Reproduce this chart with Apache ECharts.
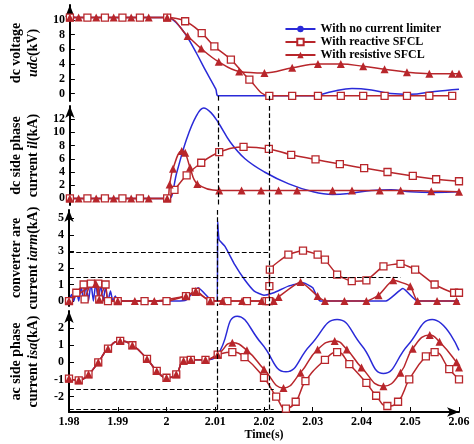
<!DOCTYPE html>
<html><head><meta charset="utf-8">
<script src="https://cdn.jsdelivr.net/npm/echarts@6/dist/echarts.min.js"></script>
<style>html,body{margin:0;padding:0;background:#fff}#c{width:474px;height:444px}</style>
</head><body><div id="c"></div>
<script>
// ---- Panel 1: dc voltage udc (kV)
const udcBlueT=[1.98,1.99,2.0,2.002,2.004,2.006,2.008,2.01,2.0105,2.02,2.03,2.034,2.038,2.042,2.046,2.05,2.055,2.06];
const udcBlueV=[10.3,10.3,10.3,9.5,7.8,5.5,3.0,0.6,-0.3,-0.3,-0.3,0.3,0.7,0.5,0.0,-0.1,0.3,0.6];
const udcReaT=[1.98,1.9836,1.9872,1.9908,1.9944,2.0,2.0037,2.0071,2.0097,2.0131,2.0169,2.021,2.0257,2.031,2.0357,2.0403,2.0447,2.0493,2.0539,2.0586];
const udcReaV=[10.3,10.3,10.3,10.3,10.3,10.3,9.8,8.2,6.4,4.6,1.9,-0.3,-0.3,-0.3,-0.3,-0.3,-0.3,-0.3,-0.3,-0.3];
const udcResT=[1.98,1.9818,1.9854,1.989,1.9926,1.9962,2.0,2.0042,2.007,2.0106,2.0148,2.02,2.0257,2.031,2.0357,2.0403,2.0447,2.0493,2.0539,2.0586,2.06];
const udcResV=[10.3,10.3,10.3,10.3,10.3,10.3,10.3,7.8,6.1,4.3,3.0,2.8,3.5,4.0,4.0,3.7,3.3,2.9,2.7,2.7,2.7];
// ---- Panel 2: dc side current il (kA)
const ilBlueT=[1.98,2.0,2.0005,2.002,2.004,2.006,2.0075,2.009,2.0105,2.013,2.016,2.02,2.025,2.03,2.034,2.038,2.042,2.046,2.05,2.055,2.06];
const ilBlueV=[0,0,0,4,9,12.5,13.7,13,11.5,8.5,6,4,2.2,1,0.6,0.8,1.2,1.3,1.0,0.9,1.0];
const ilReaT=[1.98,1.9836,1.9872,1.9908,1.9944,2.0,2.0015,2.004,2.007,2.0107,2.0157,2.0209,2.0255,2.0305,2.0355,2.0405,2.0453,2.0505,2.0553,2.06];
const ilReaV=[0,0,0,0,0,0,1.3,3.5,5.4,7.0,7.8,7.5,6.6,5.9,5.2,4.6,4.0,3.4,2.9,2.6];
const ilResT=[1.98,1.9818,1.9854,1.989,1.9926,1.9962,2.0,2.0005,2.0012,2.003,2.0037,2.0047,2.0062,2.0107,2.0153,2.0193,2.0229,2.0267,2.034,2.038,2.0437,2.048,2.0543,2.06];
const ilResV=[0,0,0,0,0,0,0,2.1,4.5,7.2,6.9,4.7,2.2,1.2,1.2,1.2,1.2,1.2,1.2,1.2,1.2,1.2,1.1,1.0];
// ---- Panel 3: converter arm current iarm (kA)
const armBlueT=[1.98,1.9805,1.981,1.9815,1.982,1.9825,1.983,1.9835,1.984,1.9845,1.985,1.9855,1.986,1.9865,1.987,1.9875,1.988,1.9885,1.989,1.9895,1.99,2.002,2.004,2.0065,2.0095,2.0104,2.0105,2.0108,2.012,2.014,2.016,2.018,2.02,2.022,2.025,2.028,2.03,2.0315,2.045,2.0485,2.0515,2.06];
const armBlueV=[0,0.4,0,0.7,0,0.9,0,1.05,0,1.1,0,1.1,0,1.0,0,0.85,0,0.6,0,0.3,0,0,0.05,0.8,0,0,4.8,3.7,3.3,2.2,1.3,0.6,0.35,0.5,0.9,1.1,0.8,0,0,0.75,0,0];
const armReaT=[1.98,1.9815,1.983,1.9832,1.9845,1.986,1.9862,1.9875,1.988,1.99,1.9955,2.0,2.004,2.006,2.009,2.0125,2.0165,2.0205,2.021,2.0211,2.0212,2.025,2.028,2.031,2.0325,2.035,2.038,2.041,2.0445,2.048,2.051,2.055,2.059,2.06];
const armReaV=[0,0.5,1.0,0.1,1.05,1.05,0.1,1.0,0,0,0,0,0.3,0.55,0,0,0,0,0,0.9,1.9,2.8,3.05,2.8,2.5,1.6,1.2,1.25,2.1,2.25,1.9,1.0,0.5,0.5];
const armResT=[1.98,1.9855,1.9862,1.99,1.9935,1.9975,2.004,2.006,2.009,2.0115,2.0155,2.0195,2.022,2.023,2.0275,2.031,2.0325,2.0365,2.041,2.0435,2.0465,2.05,2.0515,2.0555,2.0595];
const armResV=[0,1.05,0.1,0,0,0,0.3,0.6,0,0,0,0,0,0.25,1.15,0.3,0,0,0,0.35,1.25,0.9,0,0,0];
// ---- Panel 4: ac side current isa (kA)
const isaComT=[1.98,1.982,1.984,1.986,1.988,1.9905,1.993,1.996,1.998,2.0,2.002,2.0035,2.005,2.008,2.0105];
const isaComV=[-0.95,-1.05,-0.7,0.0,0.8,1.25,1.0,0.2,-0.5,-0.9,-0.7,0.1,0.15,0.15,0.45];
const isaBlueT=[2.0145,2.0195,2.0245,2.0295,2.035,2.04,2.0445,2.0495,2.0545,2.06];
const isaBlueV=[2.7,1.1,-0.55,1.0,2.5,1.0,-0.65,1.0,2.5,0.7];
const isaResT=[2.0135,2.0165,2.02,2.024,2.0275,2.031,2.0345,2.037,2.04,2.0445,2.048,2.0505,2.054,2.056,2.0595,2.06];
const isaResV=[1.15,0.7,-0.4,-1.5,-0.6,0.75,1.25,0.75,-0.3,-1.4,-0.6,0.8,1.6,1.2,0.0,-0.3];
const isaReaT=[2.0135,2.016,2.02,2.0225,2.0245,2.0265,2.0285,2.0325,2.035,2.0375,2.041,2.043,2.0453,2.0475,2.0498,2.0532,2.055,2.058,2.06];
const isaReaV=[0.6,0.3,-0.9,-2.0,-2.7,-2.3,-1.1,0.15,0.6,-0.1,-1.2,-1.95,-2.55,-2.3,-1.0,0.35,0.6,-0.4,-1.0];
// ---- reference markers
const faultTimes=[2.0105,2.021];
const armRefV=[2.95,1.45], armRefEnd=[2.021,2.048];
const isaRefV=[-1.55,-2.75], isaRefEnd=[2.022,2.022];
const ticks1=[0,2,4,6,8,10], ticks2=[0,2,4,6,8,10,12], ticks3=[0,1,2,3,4,5], ticks4=[-2,-1,0,1,2];
const xTicks=[1.98,1.99,2,2.01,2.02,2.03,2.04,2.05,2.06];

const pairs=(t,v)=>t.map((x,i)=>[x,v[i]]);
const BLUE='#2a2ad8', RED='#b8262b';
const F='Liberation Serif';
const grids=[{top:5,height:96},{top:106,height:99},{top:210,height:96},{top:311,height:101}];
const yr=[[-1,12],[-1,14],[-0.3,5.5],[-2.9,3.0]];
const yt=[ticks1,ticks2,ticks3,ticks4];
const names=[['dc voltage','{i|udc}(kV)'],['dc side phase','current {i|il}(kA)'],['converter are','current {i|iarm}(kA)'],['ac side phase','current {i|isa}(kA)']];
const dash={type:'dashed',color:'#000',width:1.2};
const vml=(gi)=>({silent:true,symbol:'none',label:{show:false},lineStyle:dash,
  data:faultTimes.map(t=>[{coord:[t,gi===0?-0.3:yr[gi][1]]},{coord:[t,yr[gi][0]]}]).concat(
   gi===2?armRefV.map((v,k)=>[{coord:[1.98,v]},{coord:[armRefEnd[k],v]}]):
   gi===3?isaRefV.map((v,k)=>[{coord:[1.98,v]},{coord:[isaRefEnd[k],v]}]):[])});
const option={animation:false,
 grid:grids.map(g=>({left:58,right:15,top:g.top,height:g.height})),
 legend:{top:18,right:28,orient:'vertical',itemGap:1,itemWidth:30,itemHeight:8,
   textStyle:{fontFamily:F,fontWeight:'bold',fontSize:12,color:'#000'},
   data:['With no current limiter','With reactive SFCL','With resistive SFCL']},
 xAxis:grids.map((g,i)=>({type:'value',gridIndex:i,min:1.98,max:2.06,interval:0.01,
   show:i===3,splitLine:{show:false},
   axisLine:{onZero:false,symbol:['none','arrow'],symbolSize:[7,12],lineStyle:{color:'#000',width:2}},
   axisTick:{inside:true,lineStyle:{color:'#000'}},
   name:i===3?'Time(s)':'',nameLocation:'middle',nameGap:15,
   nameTextStyle:{fontFamily:F,fontWeight:'bold',fontSize:12,color:'#000'},
   axisLabel:{fontFamily:F,fontWeight:'bold',fontSize:12,color:'#000',margin:4,
     customValues:xTicks,formatter:v=>String(+v.toFixed(2))}})),
 yAxis:grids.map((g,i)=>({type:'value',gridIndex:i,min:yr[i][0],max:yr[i][1],splitLine:{show:false},
   axisLine:{show:true,onZero:false,symbol:['none','arrow'],symbolSize:[7,12],lineStyle:{color:'#000',width:2}},
   axisTick:{show:true,inside:true,customValues:yt[i],lineStyle:{color:'#000'}},
   axisLabel:{fontFamily:F,fontWeight:'bold',fontSize:12,color:'#000',margin:5,customValues:yt[i]},
   name:names[i].join('\n'),nameLocation:'middle',nameRotate:90,nameGap:27,
   nameTextStyle:{fontFamily:F,fontWeight:'bold',fontSize:14,color:'#000',lineHeight:17,
     rich:{i:{fontFamily:F,fontWeight:'bold',fontStyle:'italic',fontSize:14}}}})),
 series:[]};
const mk=(name,gi,data,kind,sm)=>{
 const s={name,type:'line',xAxisIndex:gi,yAxisIndex:gi,data,smooth:sm,
   lineStyle:{width:1.5,color:kind==='b'?BLUE:RED},itemStyle:{color:kind==='b'?BLUE:RED}};
 if(kind==='b'){s.showSymbol=false;s.symbol='none';}
 else if(kind==='s'){s.symbol='rect';s.symbolSize=7;s.itemStyle={color:'#fff',borderColor:RED,borderWidth:1.3};}
 else {s.symbol='triangle';s.symbolSize=8;s.itemStyle={color:RED};}
 return s;};
const S=option.series;
const LB='With no current limiter', LS='With reactive SFCL', LT='With resistive SFCL';
S.push(mk(LB,0,pairs(udcBlueT,udcBlueV),'b',0.4),mk(LS,0,pairs(udcReaT,udcReaV),'s',0.4),mk(LT,0,pairs(udcResT,udcResV),'t',0.4));
S.push(mk(LB,1,pairs(ilBlueT,ilBlueV),'b',0.4),mk(LS,1,pairs(ilReaT,ilReaV),'s',0.4),mk(LT,1,pairs(ilResT,ilResV),'t',0.4));
S.push(mk(LB,2,pairs(armBlueT,armBlueV),'b',0.15),mk(LS,2,pairs(armReaT,armReaV),'s',0.15),mk(LT,2,pairs(armResT,armResV),'t',0.15));
S.push(mk(LB,3,pairs(isaComT.concat(isaBlueT),isaComV.concat(isaBlueV)),'b',0.5),
 mk(LS,3,pairs(isaComT.concat(isaReaT),isaComV.concat(isaReaV)),'s',0.5),
 mk(LT,3,pairs(isaComT.concat(isaResT),isaComV.concat(isaResV)),'t',0.5));
[0,1,2,3].forEach(gi=>{S.push({type:'line',xAxisIndex:gi,yAxisIndex:gi,data:[],markLine:vml(gi)});});
echarts.init(document.getElementById('c')).setOption(option);
</script></body></html>
